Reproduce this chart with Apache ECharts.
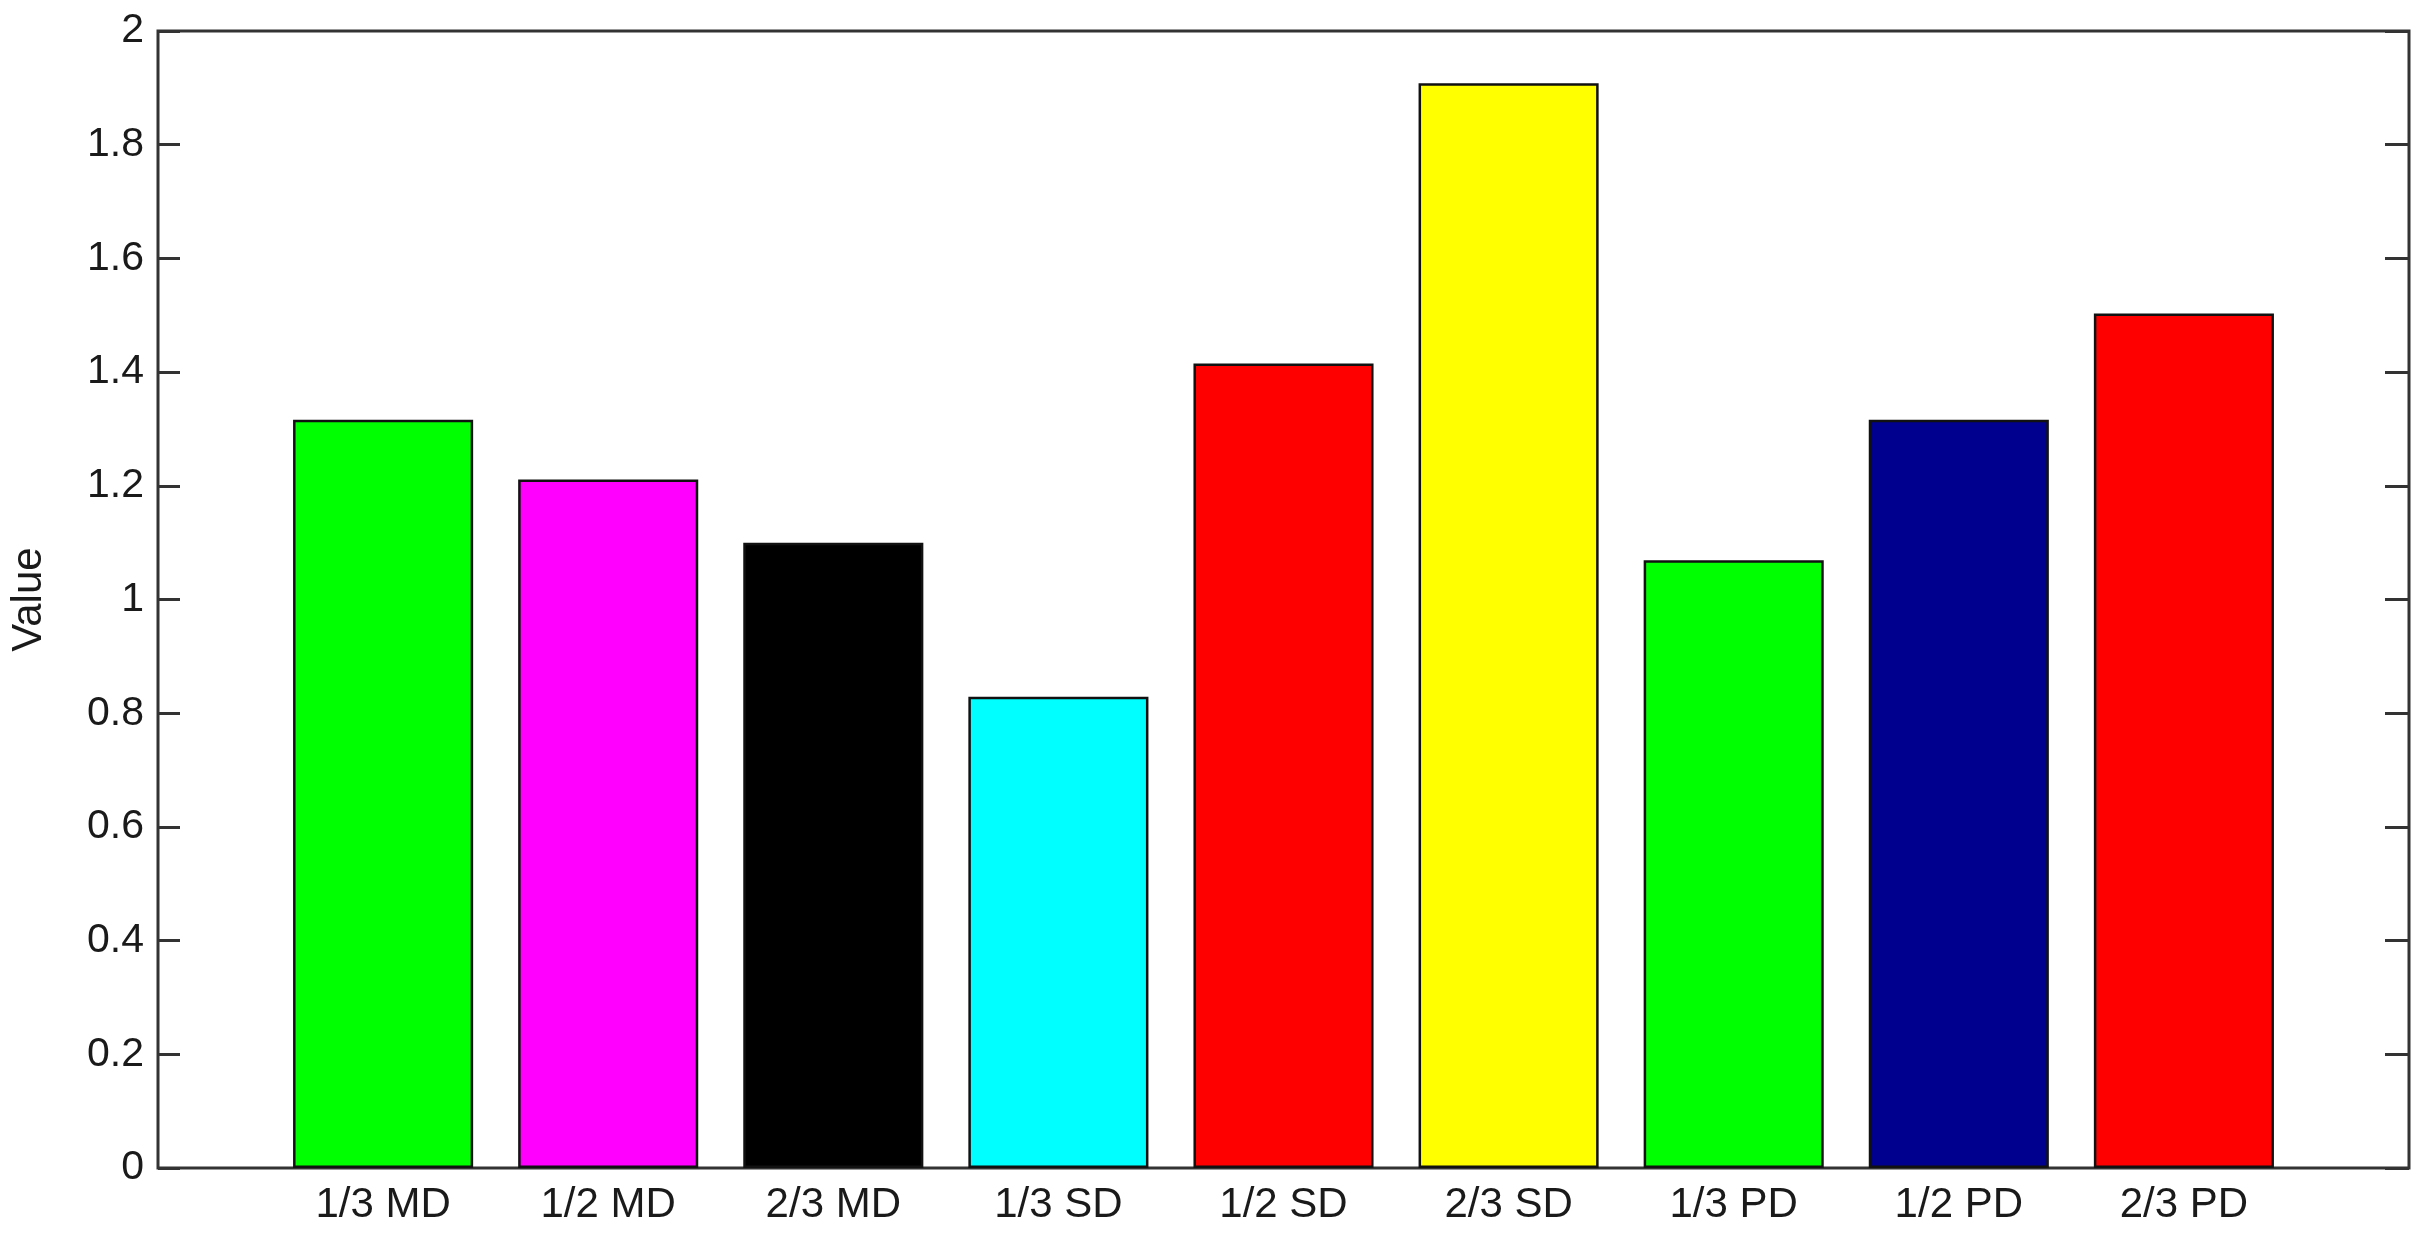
<!DOCTYPE html>
<html>
<head>
<meta charset="utf-8">
<script src="https://cdn.jsdelivr.net/npm/echarts@6/dist/echarts.min.js"></script>
<style>
  html, body { margin: 0; padding: 0; background: #fff; }
  #chart { width: 2421px; height: 1237px; }
</style>
</head>
<body>
<div id="chart"></div>
<script>
// categories along the bottom, at positions 1..9
const categories = ['1/3 MD', '1/2 MD', '2/3 MD', '1/3 SD', '1/2 SD', '2/3 SD', '1/3 PD', '1/2 PD', '2/3 PD'];
const positions = [1, 2, 3, 4, 5, 6, 7, 8, 9];
const values = [1.316, 1.211, 1.100, 0.829, 1.415, 1.908, 1.069, 1.316, 1.503];
const barColors = ['#00ff00', '#ff00ff', '#000000', '#00ffff', '#ff0000', '#ffff00', '#00ff00', '#00008f', '#ff0000'];
const yTicks = [0, 0.2, 0.4, 0.6, 0.8, 1, 1.2, 1.4, 1.6, 1.8, 2];

const chart = echarts.init(document.getElementById('chart'));

const barData = positions.map(function (p, i) {
  return {
    value: [p, values[i]],
    itemStyle: { color: barColors[i] }
  };
});

const labelFont = 'Liberation Sans, Arial, sans-serif';
const axisColor = '#333333';

chart.setOption({
  backgroundColor: '#ffffff',
  animation: false,
  grid: {
    left: 153,
    top: 31,
    width: 2256,
    height: 1137,
    show: true,
    borderColor: axisColor,
    borderWidth: 3,
    backgroundColor: 'transparent'
  },
  xAxis: {
    type: 'value',
    min: 0,
    max: 10,
    interval: 1,
    axisLine: { show: false },
    axisTick: { show: false },
    splitLine: { show: false },
    axisLabel: {
      fontFamily: labelFont,
      fontSize: 42,
      color: '#1a1a1a',
      margin: 16,
      formatter: function (v) {
        return categories[v - 1] || '';
      }
    }
  },
  yAxis: [
    {
      type: 'value',
      min: yTicks[0],
      max: yTicks[yTicks.length - 1],
      interval: 0.2,
      name: 'Value',
      nameLocation: 'middle',
      nameGap: 108,
      nameTextStyle: { fontFamily: labelFont, fontSize: 42, color: '#1a1a1a' },
      axisLine: { show: false },
      axisTick: { show: true, inside: true, length: 22, lineStyle: { color: axisColor, width: 3 } },
      splitLine: { show: false },
      axisLabel: {
        fontFamily: labelFont,
        fontSize: 41,
        color: '#1a1a1a',
        margin: 14,
        formatter: function (v) {
          return String(Math.round(v * 10) / 10);
        }
      }
    },
    {
      type: 'value',
      position: 'right',
      min: yTicks[0],
      max: yTicks[yTicks.length - 1],
      interval: 0.2,
      axisLine: { show: false },
      axisTick: { show: true, inside: true, length: 24, lineStyle: { color: axisColor, width: 3 } },
      splitLine: { show: false },
      axisLabel: { show: false }
    }
  ],
  series: [
    {
      type: 'bar',
      data: barData,
      barWidth: '80%',
      itemStyle: { borderColor: '#111111', borderWidth: 2.5 }
    }
  ]
});
</script>
</body>
</html>
